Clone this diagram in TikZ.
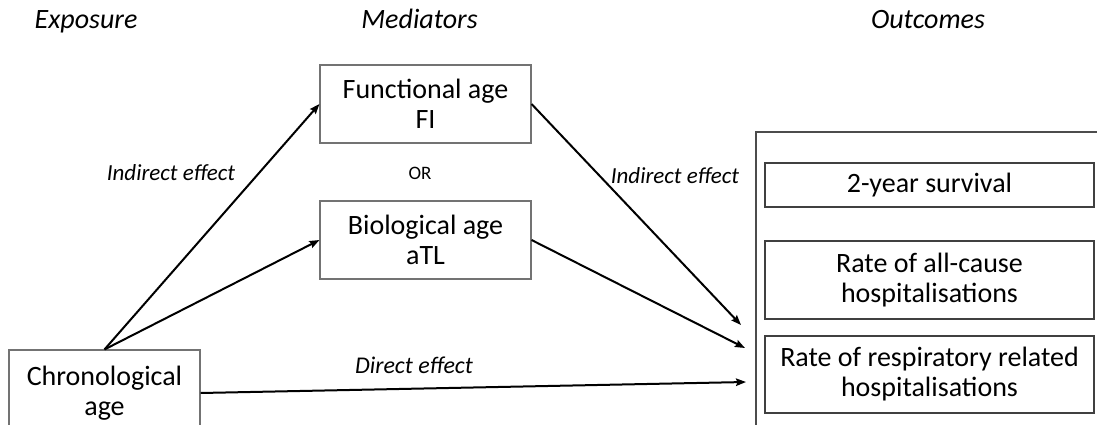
\documentclass[tikz,border=0pt]{standalone}
\usepackage{fontspec}
\setmainfont{Carlito}
\usetikzlibrary{arrows.meta}
\begin{document}
\begin{tikzpicture}[x=1pt,y=-1pt,
  box/.style={draw=black!55,line width=1.1pt,align=center,inner sep=0pt,
    font=\fontsize{28}{30}\selectfont},
  obox/.style={box,draw=black!75,minimum width=329pt},
  head/.style={font=\fontsize{28}{30}\selectfont\itshape,anchor=base,inner sep=0pt},
  lab/.style={font=\fontsize{23}{26}\selectfont\itshape,inner sep=0pt},
  arr/.style={line width=2pt,-{Stealth[length=10pt,width=7.5pt,inset=1.5pt]}}]
\path[use as bounding box,clip] (0,0) rectangle (1097,425);
\fill[white] (0,0) rectangle (1097,425);
% headings
\node[head] (hexp) at (86,29) {Exposure};
\node[head] (hmed) at (419.5,29) {Mediators};
\node[head] (hout) at (928,29) {Outcomes};
% exposure
\node[box,minimum width=191pt,minimum height=86pt] (chrono) at (104.5,393) {Chronological\\age};
% mediators
\node[box,minimum width=211pt,minimum height=78pt] (func) at (425.5,104) {Functional age\\FI};
\node[box,minimum width=211pt,minimum height=78pt] (bio) at (425.5,240) {Biological age\\aTL};
\node[font=\fontsize{19}{21}\selectfont,inner sep=0pt] (or) at (420,173) {OR};
% outcomes
\node[draw=black!70,line width=1.1pt,minimum width=354pt,minimum height=308pt,inner sep=0pt] (outer) at (933,286) {};
\node[obox,minimum height=44pt] (surv) at (929.5,185) {2-year survival};
\node[obox,minimum height=78pt] (allc) at (929.5,280) {Rate of all-cause\\hospitalisations};
\node[obox,minimum height=77pt] (resp) at (929.5,374.5) {Rate of respiratory related\\hospitalisations};
% free arrow ends
\coordinate (t1) at (741,325);
\coordinate (t2) at (745,348);
\coordinate (t3) at (746,382);
% arrows
\draw[arr] (chrono.north) -- (func.west);
\draw[arr] (chrono.north) -- (bio.west);
\draw[arr] (func.east) -- (t1);
\draw[arr] (bio.east) -- (t2);
\draw[arr] (chrono.east) -- (t3);
% labels
\node[lab] (l1) at (171,173) {Indirect effect};
\node[lab] (l2) at (675,176) {Indirect effect};
\node[lab,font=\fontsize{24}{26}\selectfont\itshape] (l3) at (414,365) {Direct effect};
\end{tikzpicture}
\end{document}
